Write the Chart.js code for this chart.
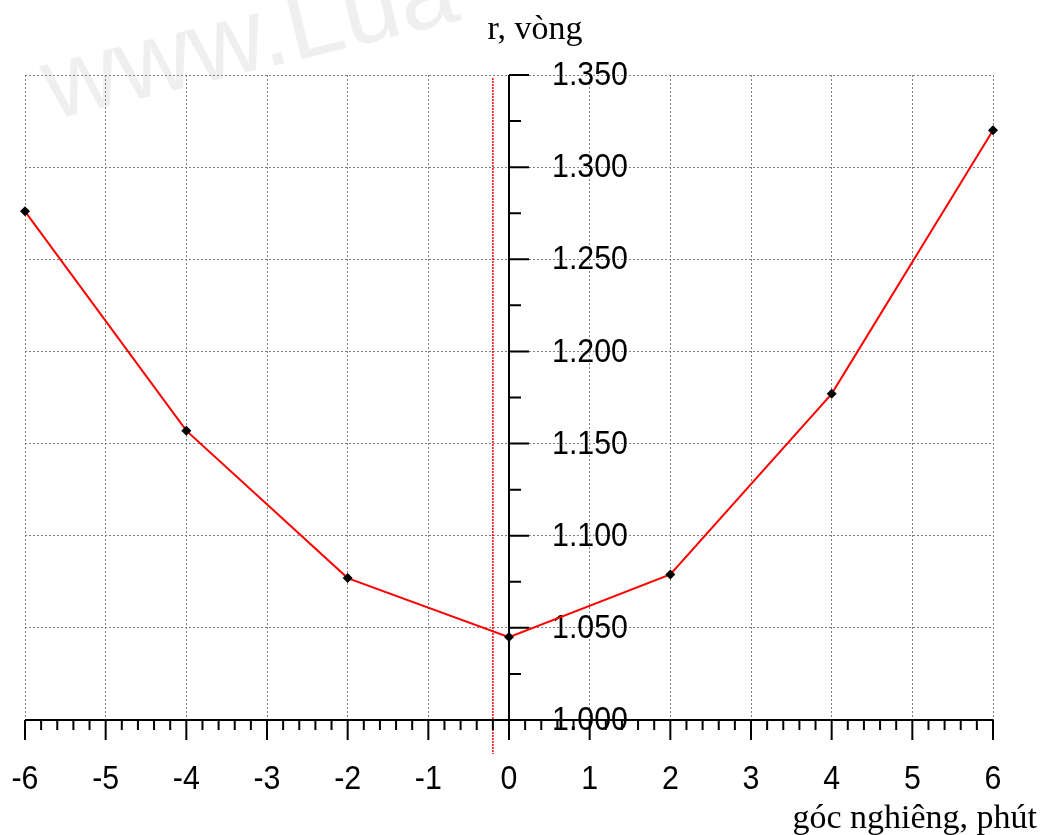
<!DOCTYPE html>
<html>
<head>
<meta charset="utf-8">
<script src="https://cdn.jsdelivr.net/npm/chart.js@4"></script>
<style>
  html, body { margin: 0; padding: 0; background: #fff; }
  #wrap { width: 1042px; height: 835px; position: relative; }
</style>
</head>
<body>
<div id="wrap"><canvas id="c"></canvas></div>
<script>
// data
const gocNghieng = [-6, -4, -2, 0, 2, 4, 6];
const rVong = [1.276, 1.157, 1.077, 1.045, 1.079, 1.177, 1.320];

const xTicks = [-6, -5, -4, -3, -2, -1, 0, 1, 2, 3, 4, 5, 6];
const xTickLabels = ['-6', '-5', '-4', '-3', '-2', '-1', '0', '1', '2', '3', '4', '5', '6'];
const yTicks = [1.000, 1.050, 1.100, 1.150, 1.200, 1.250, 1.300, 1.350];
const yTickLabels = ['1.000', '1.050', '1.100', '1.150', '1.200', '1.250', '1.300', '1.350'];
const markerX = -0.2;

const SANS = "'Liberation Sans', Arial, sans-serif";
const SERIF = "'Liberation Serif', 'Times New Roman', serif";

// slightly condensed sans text, like the original plot
function chu(ctx, txt, x, y, align) {
  ctx.save();
  ctx.translate(x, y);
  ctx.scale(0.92, 1);
  ctx.textAlign = align;
  ctx.fillText(txt, 0, 0);
  ctx.restore();
}

// axes drawn through the origin, plus watermark and axis titles
const khungTruc = {
  id: 'khungTruc',
  beforeDraw(chart) {
    const ctx = chart.ctx;
    ctx.save();
    ctx.fillStyle = '#fff';
    ctx.fillRect(0, 0, chart.width, chart.height);
    ctx.translate(52, 120);
    ctx.rotate(-0.24);
    ctx.font = '104px ' + SANS;
    ctx.fillStyle = '#efefef';
    ctx.textBaseline = 'alphabetic';
    ctx.fillText('www.Lua', 0, 0);
    ctx.restore();
  },
  beforeDatasetsDraw(chart) {
    const ctx = chart.ctx;
    const sx = chart.scales.x, sy = chart.scales.y;
    const x0 = sx.getPixelForValue(0);
    const yBot = sy.getPixelForValue(yTicks[0]);
    const yTop = sy.getPixelForValue(yTicks[yTicks.length - 1]);
    ctx.save();

    // red dotted marker
    const mx = sx.getPixelForValue(markerX);
    ctx.strokeStyle = '#ff1010';
    ctx.lineWidth = 1.6;
    ctx.setLineDash([2, 1]);
    ctx.beginPath();
    ctx.moveTo(mx, yTop + 3);
    ctx.lineTo(mx, yBot + 34);
    ctx.stroke();
    ctx.setLineDash([]);

    ctx.strokeStyle = '#000';
    ctx.lineWidth = 2;
    ctx.beginPath();
    // y axis
    ctx.moveTo(x0, yTop);
    ctx.lineTo(x0, yBot);
    yTicks.forEach((v, i) => {
      const y = sy.getPixelForValue(v);
      ctx.moveTo(x0, y);
      ctx.lineTo(x0 + 20, y);
      if (i < yTicks.length - 1) {
        const ym = sy.getPixelForValue((v + yTicks[i + 1]) / 2);
        ctx.moveTo(x0, ym);
        ctx.lineTo(x0 + 12, ym);
      }
    });
    // x axis
    ctx.moveTo(sx.getPixelForValue(xTicks[0]), yBot);
    ctx.lineTo(sx.getPixelForValue(xTicks[xTicks.length - 1]), yBot);
    xTicks.forEach((v, i) => {
      const x = sx.getPixelForValue(v);
      ctx.moveTo(x, yBot);
      ctx.lineTo(x, yBot + 20);
      if (i < xTicks.length - 1) {
        for (let k = 1; k < 5; k++) {
          const xm = sx.getPixelForValue(v + k * 0.2);
          ctx.moveTo(xm, yBot);
          ctx.lineTo(xm, yBot + 10);
        }
      }
    });
    ctx.stroke();

    // tick labels
    ctx.fillStyle = '#000';
    ctx.font = '33px ' + SANS;
    ctx.textBaseline = 'middle';
    yTicks.forEach((v, i) => {
      chu(ctx, yTickLabels[i], x0 + 43, sy.getPixelForValue(v) + 1, 'left');
    });
    xTicks.forEach((v, i) => {
      chu(ctx, xTickLabels[i], sx.getPixelForValue(v), yBot + 60, 'center');
    });

    // axis titles
    ctx.font = '34px ' + SERIF;
    ctx.textBaseline = 'alphabetic';
    ctx.textAlign = 'center';
    ctx.fillText('r, vòng', 535, 39);
    ctx.textAlign = 'right';
    ctx.fillText('góc nghiêng, phút', 1037, 828);
    ctx.restore();
  }
};

new Chart(document.getElementById('c'), {
  type: 'line',
  data: {
    datasets: [{
      label: 'r',
      data: gocNghieng.map((x, i) => ({ x: x, y: rVong[i] })),
      borderColor: '#ff0000',
      borderWidth: 2,
      pointStyle: 'rectRot',
      pointRadius: 5,
      pointBackgroundColor: '#000',
      pointBorderColor: '#000',
      pointBorderWidth: 0,
      tension: 0,
      clip: false
    }]
  },
  options: {
    responsive: true,
    maintainAspectRatio: false,
    animation: false,
    events: [],
    layout: { padding: { left: 25, right: 49, top: 75, bottom: 115 } },
    plugins: { legend: { display: false }, tooltip: { enabled: false } },
    scales: {
      x: {
        type: 'linear',
        min: -6, max: 6,
        ticks: { display: false, stepSize: 1 },
        grid: { color: '#808080', lineWidth: 1, drawTicks: false },
        border: { display: false, dash: [2, 2] }
      },
      y: {
        type: 'linear',
        min: 1.0, max: 1.35,
        ticks: { display: false, stepSize: 0.05 },
        grid: { color: '#808080', lineWidth: 1, drawTicks: false },
        border: { display: false, dash: [2, 2] }
      }
    }
  },
  plugins: [khungTruc]
});
</script>
</body>
</html>
